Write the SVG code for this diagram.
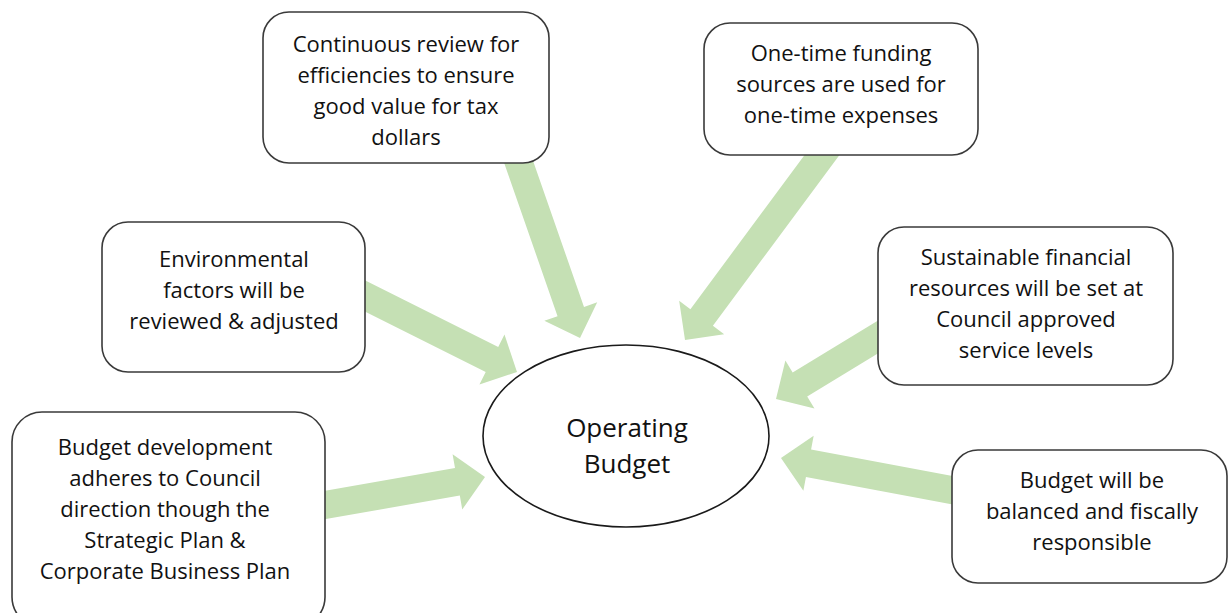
<svg xmlns="http://www.w3.org/2000/svg" width="1228" height="613" viewBox="0 0 1228 613">
<style>
.box{fill:#ffffff;stroke:#3a3a3a;stroke-width:1.6}
.arrow{fill:#c5e0b4;stroke:none}
.t{font-family:"Open Sans","Noto Sans","Liberation Sans",sans-serif;font-size:22px;fill:#111111;text-anchor:middle}
.c{font-family:"Open Sans","Noto Sans","Liberation Sans",sans-serif;font-size:26px;fill:#111111;text-anchor:middle}
</style>
<rect width="1228" height="613" fill="#ffffff"/>
<g id="connectors">
<polygon class="arrow" points="499.3,149.0 557.56,316.17 544.34,320.78 580,338 597.22,302.34 584.0,306.95 525.7,139.8"/>
<polygon class="arrow" points="822.55,130.77 690.41,309.17 679.16,300.84 685,340 724.16,334.16 712.91,325.83 845.05,147.43"/>
<polygon class="arrow" points="340.84,299.52 485.70,372.0 479.44,384.52 517,372 504.48,334.44 498.22,346.96 353.36,274.48"/>
<polygon class="arrow" points="310.11,521.79 459.82,495.62 462.24,509.42 485,477 452.58,454.24 455.0,468.04 305.29,494.21"/>
<polygon class="arrow" points="888.33,314.34 792.65,372.5 785.38,360.54 776,399 814.46,408.38 807.19,396.42 902.87,338.26"/>
<polygon class="arrow" points="975.17,480.14 811.09,449.39 813.67,435.63 781,458 803.37,490.67 805.95,476.91 970.03,507.66"/>
</g>
<g id="node-continuous">
<rect class="box" x="263" y="12" width="286" height="151" rx="26"/>
<text class="t" x="406" y="52">Continuous review for</text>
<text class="t" x="406" y="83">efficiencies to ensure</text>
<text class="t" x="406" y="114">good value for tax</text>
<text class="t" x="406" y="145">dollars</text>
</g>
<g id="node-onetime">
<rect class="box" x="704" y="23" width="274" height="132" rx="26"/>
<text class="t" x="841" y="61">One-time funding</text>
<text class="t" x="841" y="92">sources are used for</text>
<text class="t" x="841" y="123">one-time expenses</text>
</g>
<g id="node-environmental">
<rect class="box" x="102" y="222" width="263" height="150" rx="26"/>
<text class="t" x="234" y="267">Environmental</text>
<text class="t" x="234" y="298">factors will be</text>
<text class="t" x="234" y="329">reviewed &amp; adjusted</text>
</g>
<g id="node-sustainable">
<rect class="box" x="878" y="227" width="295" height="158" rx="26"/>
<text class="t" x="1026" y="265">Sustainable financial</text>
<text class="t" x="1026" y="296">resources will be set at</text>
<text class="t" x="1026" y="327">Council approved</text>
<text class="t" x="1026" y="358">service levels</text>
</g>
<g id="node-budgetdev">
<rect class="box" x="12" y="412" width="313" height="215" rx="30"/>
<text class="t" x="165" y="455">Budget development</text>
<text class="t" x="165" y="486">adheres to Council</text>
<text class="t" x="165" y="517">direction though the</text>
<text class="t" x="165" y="548">Strategic Plan &amp;</text>
<text class="t" x="165" y="579">Corporate Business Plan</text>
</g>
<g id="node-balanced">
<rect class="box" x="952" y="450" width="275" height="133" rx="26"/>
<text class="t" x="1092" y="488">Budget will be</text>
<text class="t" x="1092" y="519">balanced and fiscally</text>
<text class="t" x="1092" y="550">responsible</text>
</g>
<g id="node-operating">
<ellipse cx="626" cy="436" rx="143" ry="91" fill="#ffffff" stroke="#1a1a1a" stroke-width="1.6"/>
<text class="c" x="627" y="437">Operating</text>
<text class="c" x="627" y="473">Budget</text>
</g>
</svg>
